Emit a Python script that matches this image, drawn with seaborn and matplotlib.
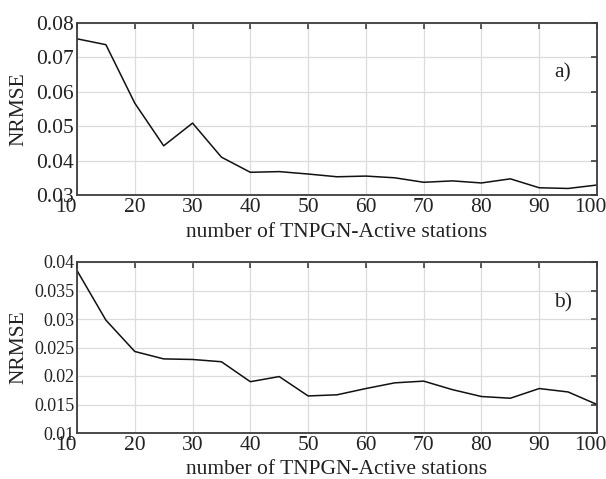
import numpy as np
import pandas as pd
import seaborn as sns
import matplotlib.pyplot as plt
import matplotlib.transforms as mtransforms

sns.set_style("whitegrid")
plt.rcParams['font.family'] = ['Liberation Serif', 'DejaVu Serif']

# Data
stations = list(range(10, 101, 5))
nrmse_a = [0.0754, 0.0737, 0.0567, 0.0443, 0.0509, 0.0410, 0.0366, 0.0368, 0.0361, 0.0353,
           0.0355, 0.0350, 0.0337, 0.0341, 0.0335, 0.0347, 0.0321, 0.0319, 0.0329]
nrmse_b = [0.0385, 0.0298, 0.0243, 0.0230, 0.0229, 0.0225, 0.0190, 0.0199, 0.0165, 0.0167,
           0.0178, 0.0188, 0.0191, 0.0176, 0.0164, 0.0161, 0.0178, 0.0172, 0.0150]

xticks = list(range(10, 101, 10))
yticks_a = [0.03, 0.04, 0.05, 0.06, 0.07, 0.08]
yticks_b = [0.01, 0.015, 0.02, 0.025, 0.03, 0.035, 0.04]
ylabels_a = ['0.03', '0.04', '0.05', '0.06', '0.07', '0.08']
ylabels_b = ['0.01', '0.015', '0.02', '0.025', '0.03', '0.035', '0.04']

fig = plt.figure(figsize=(6.06, 4.79), dpi=100)
ax1 = fig.add_axes([77/606, 1-195/479, 520/606, 172/479])
ax2 = fig.add_axes([77/606, 1-433/479, 520/606, 171/479])

panels = [(ax1, nrmse_a, yticks_a, ylabels_a, 'a)', 0.712, 15.5, -0.16),
          (ax2, nrmse_b, yticks_b, ylabels_b, 'b)', 0.76, 13, -0.16)]

fs = 15.5
txt = '#222222'
for ax, vals, yt, yl, tag, ty, yfs, xly in panels:
    df = pd.DataFrame({'n': stations, 'v': vals})
    sns.lineplot(data=df, x='n', y='v', ax=ax, color='#111111', linewidth=1.1)
    ax.set_xlim(10, 100)
    ax.set_ylim(yt[0], yt[-1])
    ax.set_xticks(xticks)
    ax.set_yticks(yt)
    ax.set_yticklabels(yl)
    ax.grid(True, color='#dcdcdc', linewidth=0.9)
    for s in ax.spines.values():
        s.set_color('#3c3c3c')
        s.set_linewidth(1.3)
    ax.tick_params(direction='in', length=4, width=1.2, color='#3c3c3c',
                   top=True, right=True, labelsize=fs, pad=2, labelcolor=txt)
    ax.tick_params(axis='y', labelsize=yfs)
    xl = ax.get_xticklabels()
    xl[0].set_ha('right')
    xl[-1].set_transform(xl[-1].get_transform() +
                         mtransforms.ScaledTranslation(-7/100, 0, fig.dpi_scale_trans))
    ax.set_xlabel('number of TNPGN-Active stations', fontsize=fs, color=txt)
    ax.xaxis.set_label_coords(0.5, xly)
    ax.set_ylabel('NRMSE', fontsize=fs, color=txt)
    ax.yaxis.set_label_coords(-0.094, 0.5)
    ax.text(0.917, ty, tag, transform=ax.transAxes, fontsize=fs, color=txt, va='center')

fig.savefig('out.png', dpi=100)
